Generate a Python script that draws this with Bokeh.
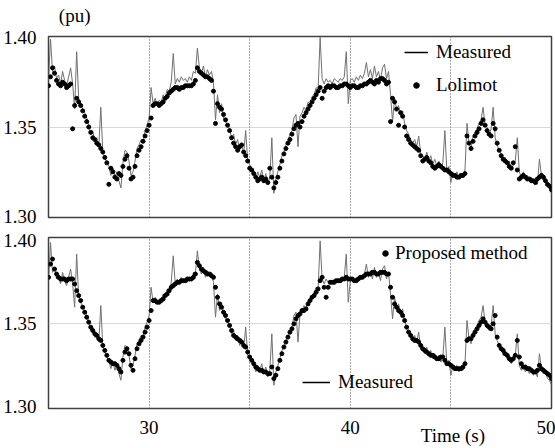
from bokeh.plotting import figure
from bokeh.layouts import column
from bokeh.models import (Range1d, FixedTicker, PrintfTickFormatter, Legend,
                          LegendItem, LinearAxis, ColumnDataSource)
from bokeh.embed import file_html
from bokeh.resources import INLINE
import numpy as np

# ---------------- data ----------------
# all series sampled every 0.1 s from 25.0 s to 50.0 s
measured = [
    1.376, 1.399, 1.381, 1.384, 1.377, 1.379, 1.374, 1.381, 1.376, 1.373,  # 25
    1.378, 1.383, 1.374, 1.360, 1.392, 1.366, 1.363, 1.360, 1.358, 1.355,  # 26
    1.351, 1.346, 1.348, 1.342, 1.344, 1.339, 1.361, 1.336, 1.333, 1.330,  # 27
    1.328, 1.323, 1.327, 1.322, 1.325, 1.320, 1.316, 1.330, 1.337, 1.336,  # 28
    1.331, 1.323, 1.325, 1.331, 1.338, 1.340, 1.343, 1.342, 1.348, 1.351,  # 29
    1.355, 1.372, 1.363, 1.366, 1.362, 1.365, 1.364, 1.368, 1.366, 1.371,  # 30
    1.370, 1.375, 1.391, 1.374, 1.377, 1.375, 1.378, 1.376, 1.377, 1.375,  # 31
    1.378, 1.376, 1.381, 1.380, 1.394, 1.383, 1.380, 1.384, 1.378, 1.382,  # 32
    1.379, 1.381, 1.375, 1.354, 1.368, 1.358, 1.363, 1.355, 1.353, 1.351,  # 33
    1.349, 1.344, 1.346, 1.340, 1.343, 1.337, 1.341, 1.335, 1.348, 1.331,  # 34
    1.329, 1.327, 1.326, 1.321, 1.325, 1.322, 1.326, 1.320, 1.324, 1.318,  # 35
    1.322, 1.344, 1.313, 1.321, 1.325, 1.329, 1.334, 1.336, 1.340, 1.342,  # 36
    1.346, 1.348, 1.355, 1.357, 1.339, 1.356, 1.358, 1.361, 1.359, 1.364,  # 37
    1.363, 1.367, 1.368, 1.372, 1.371, 1.400, 1.377, 1.374, 1.377, 1.375,  # 38
    1.376, 1.374, 1.377, 1.376, 1.375, 1.377, 1.376, 1.378, 1.392, 1.363,  # 39
    1.376, 1.377, 1.375, 1.378, 1.376, 1.379, 1.377, 1.380, 1.386, 1.378,  # 40
    1.382, 1.377, 1.384, 1.378, 1.381, 1.376, 1.383, 1.385, 1.377, 1.381,  # 41
    1.368, 1.353, 1.366, 1.360, 1.362, 1.357, 1.359, 1.352, 1.348, 1.346,  # 42
    1.343, 1.341, 1.343, 1.339, 1.345, 1.335, 1.334, 1.332, 1.336, 1.331,  # 43
    1.334, 1.329, 1.332, 1.328, 1.331, 1.327, 1.330, 1.348, 1.325, 1.328,  # 44
    1.319, 1.325, 1.322, 1.325, 1.321, 1.324, 1.322, 1.326, 1.352, 1.341,  # 45
    1.338, 1.345, 1.347, 1.349, 1.352, 1.354, 1.361, 1.351, 1.350, 1.346,  # 46
    1.349, 1.361, 1.344, 1.340, 1.337, 1.335, 1.331, 1.333, 1.329, 1.331,  # 47
    1.326, 1.329, 1.331, 1.344, 1.325, 1.322, 1.325, 1.321, 1.323, 1.320,  # 48
    1.322, 1.319, 1.321, 1.318, 1.332, 1.323, 1.320, 1.322, 1.317, 1.316,  # 49
    1.313,                                                                  # 50
]

lolimot = [
    1.373, 1.378, 1.383, 1.380, 1.376, 1.374, 1.373, 1.375, 1.374, 1.372,  # 25
    1.373, 1.374, 1.349, 1.362, 1.366, 1.364, 1.362, 1.359, 1.356, 1.353,  # 26
    1.350, 1.347, 1.344, 1.343, 1.341, 1.340, 1.338, 1.336, 1.333, 1.330,  # 27
    1.318, 1.327, 1.325, 1.322, 1.321, 1.324, 1.323, 1.328, 1.332, 1.334,  # 28
    1.327, 1.321, 1.322, 1.328, 1.334, 1.337, 1.339, 1.342, 1.345, 1.348,  # 29
    1.351, 1.355, 1.362, 1.363, 1.363, 1.362, 1.363, 1.364, 1.366, 1.367,  # 30
    1.369, 1.370, 1.371, 1.372, 1.372, 1.371, 1.372, 1.372, 1.373, 1.373,  # 31
    1.373, 1.373, 1.374, 1.376, 1.383, 1.381, 1.380, 1.379, 1.378, 1.378,  # 32
    1.377, 1.376, 1.370, 1.352, 1.363, 1.361, 1.360, 1.357, 1.354, 1.351,  # 33
    1.348, 1.344, 1.341, 1.339, 1.337, 1.339, 1.340, 1.336, 1.334, 1.331,  # 34
    1.327, 1.326, 1.324, 1.322, 1.320, 1.321, 1.322, 1.320, 1.321, 1.319,  # 35
    1.327, 1.322, 1.316, 1.319, 1.322, 1.327, 1.331, 1.335, 1.338, 1.341,  # 36
    1.343, 1.346, 1.349, 1.351, 1.352, 1.350, 1.353, 1.356, 1.358, 1.360,  # 37
    1.362, 1.364, 1.366, 1.368, 1.370, 1.372, 1.366, 1.370, 1.372, 1.373,  # 38
    1.372, 1.373, 1.373, 1.372, 1.372, 1.373, 1.373, 1.374, 1.374, 1.373,  # 39
    1.372, 1.373, 1.373, 1.372, 1.372, 1.373, 1.373, 1.374, 1.374, 1.375,  # 40
    1.376, 1.375, 1.374, 1.376, 1.375, 1.377, 1.377, 1.376, 1.374, 1.375,  # 41
    1.353, 1.366, 1.364, 1.360, 1.351, 1.358, 1.356, 1.350, 1.345, 1.343,  # 42
    1.341, 1.340, 1.339, 1.338, 1.337, 1.334, 1.331, 1.332, 1.333, 1.331,  # 43
    1.330, 1.328, 1.327, 1.328, 1.329, 1.328, 1.327, 1.326, 1.326, 1.325,  # 44
    1.324, 1.323, 1.323, 1.322, 1.322, 1.323, 1.323, 1.324, 1.345, 1.341,  # 45
    1.338, 1.342, 1.345, 1.347, 1.349, 1.352, 1.354, 1.351, 1.348, 1.346,  # 46
    1.345, 1.352, 1.349, 1.341, 1.337, 1.334, 1.332, 1.331, 1.330, 1.328,  # 47
    1.327, 1.330, 1.339, 1.326, 1.321, 1.322, 1.323, 1.322, 1.321, 1.321,  # 48
    1.320, 1.320, 1.319, 1.321, 1.322, 1.323, 1.322, 1.320, 1.318, 1.317,  # 49
    1.315,                                                                  # 50
]

proposed = [
    1.378, 1.386, 1.389, 1.383, 1.380, 1.378, 1.377, 1.377, 1.377, 1.376,  # 25
    1.377, 1.377, 1.377, 1.374, 1.370, 1.367, 1.364, 1.360, 1.357, 1.354,  # 26
    1.351, 1.348, 1.346, 1.344, 1.343, 1.341, 1.340, 1.337, 1.334, 1.331,  # 27
    1.328, 1.327, 1.326, 1.326, 1.325, 1.323, 1.321, 1.328, 1.333, 1.335,  # 28
    1.332, 1.325, 1.322, 1.329, 1.335, 1.338, 1.340, 1.342, 1.345, 1.348,  # 29
    1.352, 1.358, 1.364, 1.364, 1.363, 1.363, 1.364, 1.365, 1.367, 1.368,  # 30
    1.370, 1.372, 1.373, 1.374, 1.375, 1.375, 1.376, 1.376, 1.376, 1.377,  # 31
    1.377, 1.377, 1.378, 1.380, 1.387, 1.385, 1.383, 1.382, 1.381, 1.380,  # 32
    1.380, 1.379, 1.378, 1.372, 1.366, 1.362, 1.360, 1.357, 1.355, 1.352,  # 33
    1.349, 1.346, 1.343, 1.342, 1.341, 1.340, 1.339, 1.337, 1.336, 1.333,  # 34
    1.330, 1.328, 1.326, 1.324, 1.323, 1.322, 1.322, 1.321, 1.321, 1.320,  # 35
    1.320, 1.324, 1.317, 1.319, 1.323, 1.328, 1.332, 1.336, 1.339, 1.342,  # 36
    1.345, 1.347, 1.350, 1.353, 1.355, 1.356, 1.358, 1.358, 1.359, 1.362,  # 37
    1.364, 1.366, 1.367, 1.369, 1.371, 1.376, 1.378, 1.372, 1.366, 1.372,  # 38
    1.375, 1.375, 1.375, 1.376, 1.376, 1.376, 1.377, 1.377, 1.378, 1.377,  # 39
    1.377, 1.377, 1.376, 1.376, 1.377, 1.378, 1.378, 1.379, 1.380, 1.380,  # 40
    1.380, 1.381, 1.381, 1.380, 1.380, 1.381, 1.381, 1.381, 1.380, 1.380,  # 41
    1.372, 1.366, 1.362, 1.360, 1.358, 1.357, 1.355, 1.352, 1.348, 1.345,  # 42
    1.343, 1.341, 1.340, 1.340, 1.339, 1.337, 1.335, 1.334, 1.333, 1.332,  # 43
    1.331, 1.331, 1.330, 1.329, 1.329, 1.330, 1.330, 1.328, 1.326, 1.326,  # 44
    1.325, 1.324, 1.323, 1.323, 1.323, 1.323, 1.324, 1.326, 1.340, 1.341,  # 45
    1.341, 1.343, 1.345, 1.347, 1.349, 1.351, 1.353, 1.351, 1.349, 1.348,  # 46
    1.347, 1.350, 1.355, 1.342, 1.337, 1.335, 1.334, 1.332, 1.331, 1.329,  # 47
    1.328, 1.329, 1.331, 1.340, 1.330, 1.326, 1.324, 1.324, 1.323, 1.323,  # 48
    1.322, 1.321, 1.321, 1.322, 1.325, 1.323, 1.322, 1.321, 1.320, 1.319,  # 49
    1.317,                                                                  # 50
]

t = np.round(np.linspace(25.0, 50.0, len(measured)), 2)

x_ticks = [30, 35, 40, 45, 50]
x_tick_labels = {30: "30", 35: "", 40: "40", 45: "", 50: "50"}
y_ticks = [1.30, 1.35, 1.40]
unit_label_at = 26.3      # where "(pu)" sits along the time axis
time_label_at = 45.1      # where "Time (s)" sits along the time axis

FONT = "Liberation Serif"
FS = "19px"
W = 555


def style_text_axis(ax, tick, text, standoff):
    ax.ticker = FixedTicker(ticks=[tick])
    ax.major_label_overrides = {tick: text}
    ax.major_tick_line_color = None
    ax.minor_tick_line_color = None
    ax.axis_line_color = None
    ax.major_label_standoff = standoff
    ax.major_label_text_font = FONT
    ax.major_label_text_font_size = FS
    ax.major_label_text_color = "black"


def make_panel(height, border_top, border_bottom, y_lo, y_hi, show_x):
    p = figure(width=W, height=height, output_backend="svg",
               toolbar_location=None, x_range=Range1d(25, 50),
               y_range=Range1d(y_lo, y_hi),
               min_border_left=48, min_border_right=4,
               min_border_top=border_top, min_border_bottom=border_bottom)
    p.background_fill_color = "white"
    p.border_fill_color = "white"
    p.outline_line_color = "#404040"
    p.outline_line_width = 1.5
    p.yaxis.ticker = FixedTicker(ticks=y_ticks)
    p.yaxis.formatter = PrintfTickFormatter(format="%.2f")
    p.yaxis.major_tick_line_color = None
    p.yaxis.minor_tick_line_color = None
    p.yaxis.axis_line_color = None
    p.yaxis.major_label_standoff = 6
    p.yaxis.major_label_text_font = FONT
    p.yaxis.major_label_text_font_size = FS
    p.yaxis.major_label_text_color = "black"
    p.xaxis.ticker = FixedTicker(ticks=x_ticks)
    p.xaxis.major_label_overrides = x_tick_labels
    p.xaxis.major_tick_line_color = None
    p.xaxis.minor_tick_line_color = None
    p.xaxis.axis_line_color = None
    p.xaxis.major_label_standoff = 6
    p.xaxis.major_label_text_font = FONT
    p.xaxis.major_label_text_font_size = FS
    p.xaxis.major_label_text_color = "black"
    if not show_x:
        p.xaxis.visible = False
    p.xgrid.ticker = FixedTicker(ticks=[30, 35, 40, 45])
    p.xgrid.grid_line_color = "#555555"
    p.xgrid.grid_line_dash = "1 2"
    p.xgrid.grid_line_width = 1
    p.ygrid.ticker = FixedTicker(ticks=[1.35])
    p.ygrid.grid_line_color = "#b0b0b0"
    p.ygrid.grid_line_dash = "1 1"
    p.ygrid.grid_line_width = 1
    return p


def legend(items, loc, gw, gh, standoff):
    return Legend(items=items, location=loc, glyph_width=gw, glyph_height=gh,
                  label_height=20, label_standoff=standoff, spacing=11,
                  padding=4, margin=0, border_line_alpha=0,
                  background_fill_alpha=0, label_text_font=FONT,
                  label_text_font_size=FS, label_text_color="black")


src = ColumnDataSource(dict(t=t, meas=measured, lol=lolimot, pro=proposed))
nan_src = dict(x=[float("nan")], y=[float("nan")])

# ---------------- top panel: Lolimot ----------------
p1 = make_panel(227, 36, 10, 1.2995, 1.4005, False)
p1.line("t", "meas", source=src, line_color="#707070", line_width=1)
dots1 = p1.scatter("t", "lol", source=src, size=4, marker="circle",
                   fill_color="black", line_color="black")
key_line1 = p1.line("x", "y", source=ColumnDataSource(nan_src),
                    line_color="black", line_width=1.5)
p1.add_layout(legend([LegendItem(label="Measured", renderers=[key_line1]),
                      LegendItem(label="Lolimot", renderers=[dots1])],
                     (352, 117), 24, 14, 8))
unit_axis = LinearAxis()
style_text_axis(unit_axis, unit_label_at, "(pu)", 5)
p1.add_layout(unit_axis, "above")

# ---------------- bottom panel: proposed method ----------------
p2 = make_panel(221, 10, 40, 1.2990, 1.4020, True)
p2.line("t", "meas", source=src, line_color="#707070", line_width=1)
dots2 = p2.scatter("t", "pro", source=src, size=4, marker="circle",
                   fill_color="black", line_color="black")
key_line2 = p2.line("x", "y", source=ColumnDataSource(nan_src),
                    line_color="black", line_width=1.5)
p2.add_layout(legend([LegendItem(label="Proposed method", renderers=[dots2])],
                     (325, 140), 16, 14, 2))
p2.add_layout(legend([LegendItem(label="Measured", renderers=[key_line2])],
                     (250, 11), 28, 14, 8))
time_axis = LinearAxis()
style_text_axis(time_axis, time_label_at, "Time (s)", -18)
p2.add_layout(time_axis, "below")

layout = column(p1, p2, spacing=0)
open("out.html", "w").write(file_html(layout, INLINE))
